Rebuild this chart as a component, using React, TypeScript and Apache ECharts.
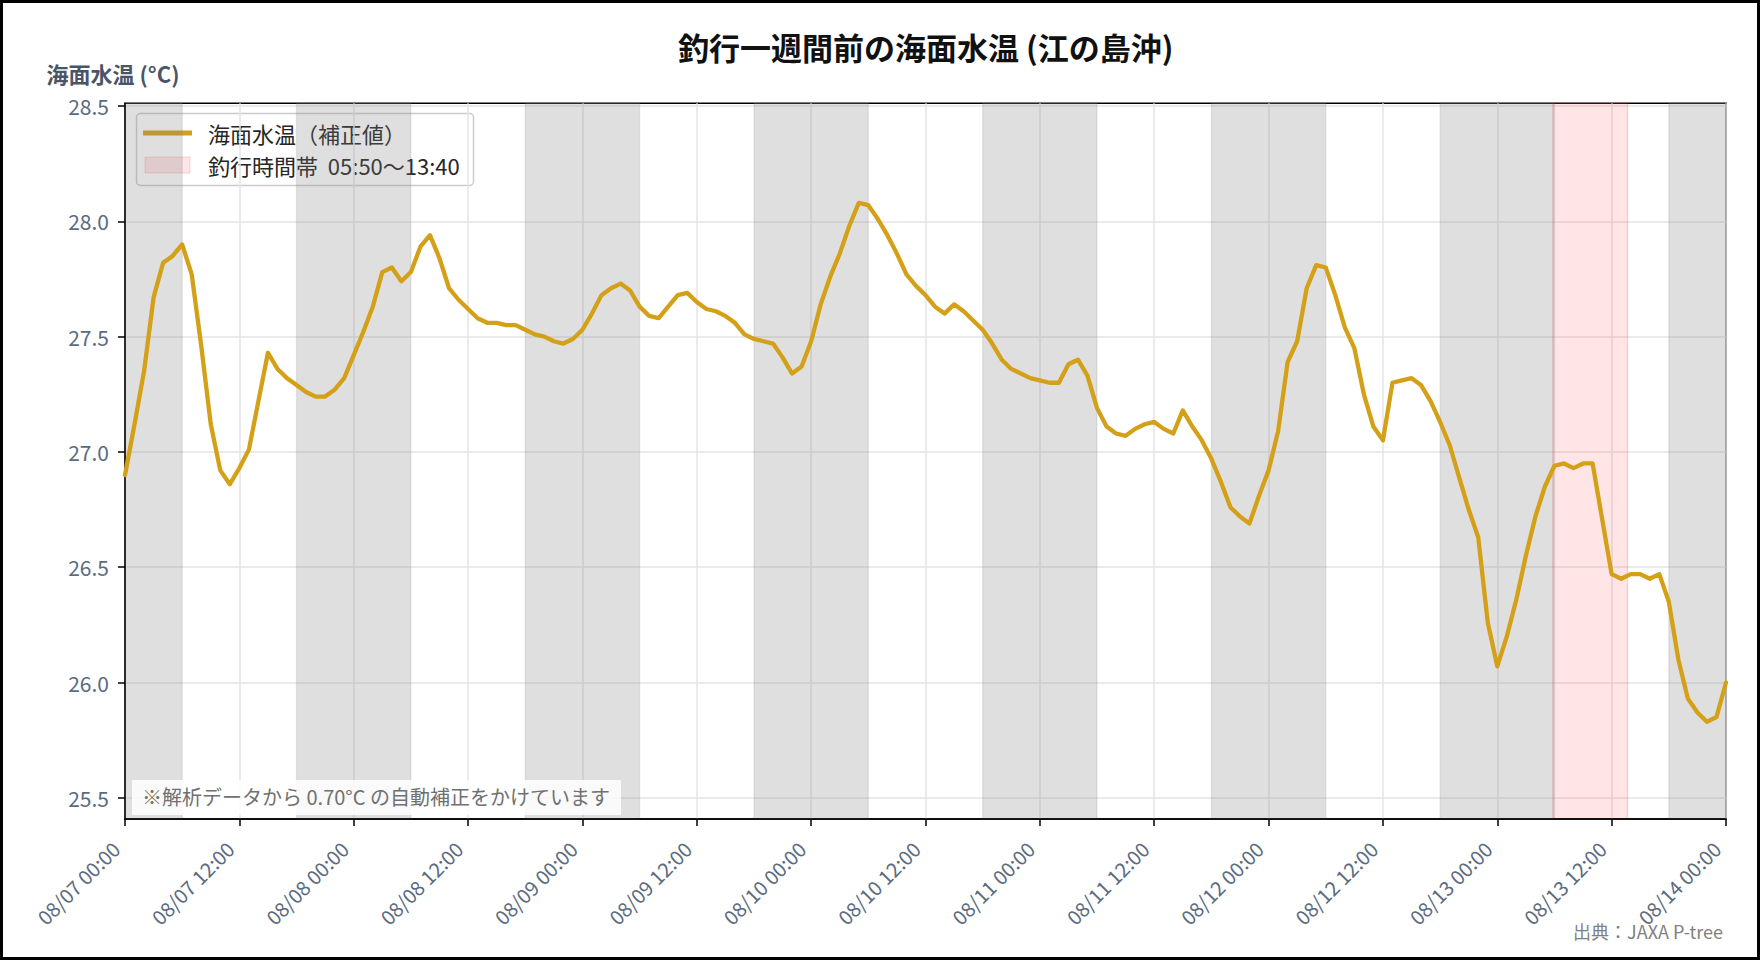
import { useEffect, useRef } from "react";
import * as echarts from "echarts";

const FONT = "'Noto Sans CJK JP', 'Noto Sans', sans-serif";

const TITLE = "釣行一週間前の海面水温 (江の島沖)";
const Y_NAME = "海面水温 (°C)";
const SERIES_NAME = "海面水温（補正値）";
const FISHING_LABEL = "釣行時間帯  05:50〜13:40";
const NOTE = "※解析データから 0.70°C の自動補正をかけています";
const SOURCE = "出典：JAXA P-tree";

// hourly values starting 08/07 00:00
const startMonth = 8;
const startDay = 7;
const seaTemp: number[] = [
  // 08/07
  26.90, 27.12, 27.35, 27.67, 27.82, 27.85, 27.90, 27.77, 27.46, 27.12, 26.92, 26.86,
  26.93, 27.01, 27.22, 27.43, 27.36, 27.32, 27.29, 27.26, 27.24, 27.24, 27.27, 27.32,
  // 08/08
  27.42, 27.52, 27.63, 27.78, 27.80, 27.74, 27.78, 27.89, 27.94, 27.84, 27.71, 27.66,
  27.62, 27.58, 27.56, 27.56, 27.55, 27.55, 27.53, 27.51, 27.50, 27.48, 27.47, 27.49,
  // 08/09
  27.53, 27.60, 27.68, 27.71, 27.73, 27.70, 27.63, 27.59, 27.58, 27.63, 27.68, 27.69,
  27.65, 27.62, 27.61, 27.59, 27.56, 27.51, 27.49, 27.48, 27.47, 27.41, 27.34, 27.37,
  // 08/10
  27.48, 27.64, 27.76, 27.86, 27.98, 28.08, 28.07, 28.01, 27.94, 27.86, 27.77, 27.72,
  27.68, 27.63, 27.60, 27.64, 27.61, 27.57, 27.53, 27.47, 27.40, 27.36, 27.34, 27.32,
  // 08/11
  27.31, 27.30, 27.30, 27.38, 27.40, 27.33, 27.19, 27.11, 27.08, 27.07, 27.10, 27.12,
  27.13, 27.10, 27.08, 27.18, 27.11, 27.05, 26.97, 26.87, 26.76, 26.72, 26.69, 26.81,
  // 08/12
  26.92, 27.09, 27.39, 27.48, 27.71, 27.81, 27.80, 27.68, 27.54, 27.45, 27.25, 27.11,
  27.05, 27.30, 27.31, 27.32, 27.29, 27.22, 27.13, 27.03, 26.89, 26.75, 26.63, 26.26,
  // 08/13
  26.07, 26.20, 26.36, 26.55, 26.72, 26.85, 26.94, 26.95, 26.93, 26.95, 26.95, 26.71,
  26.47, 26.45, 26.47, 26.47, 26.45, 26.47, 26.35, 26.10, 25.93, 25.87, 25.83, 25.85,
  // 08/14 00:00
  26.00,
];

const yTicks = [25.5, 26.0, 26.5, 27.0, 27.5, 28.0, 28.5];
const yMin = 25.408;
const yMax = 28.512;
const xMaxHours = 168;
const xTickStepHours = 12;

// night shading (hours from 08/07 00:00)
const nightStart = [0, 18, 42, 66, 90, 114, 138, 162];
const nightEnd = [6, 30, 54, 78, 102, 126, 150, 168];

// fishing window on 08/13
const fishingDayOffset = 6;
const fishingStart = "05:50";
const fishingEnd = "13:40";

const pad2 = (n: number) => String(n).padStart(2, "0");
const toHours = (hhmm: string) => {
  const [h, m] = hhmm.split(":").map(Number);
  return fishingDayOffset * 24 + h + m / 60;
};
const fmtX = (v: number) => {
  const d = startDay + Math.floor(v / 24);
  const hh = Math.round(v % 24);
  return `${pad2(startMonth)}/${pad2(d)} ${pad2(hh)}:00`;
};

const GOLD = "#D4A017";
const LABEL_COLOR = "#5b6b80";

export default function App() {
  const ref = useRef<HTMLDivElement>(null);

  useEffect(() => {
    if (!ref.current) return;
    const chart = echarts.init(ref.current, undefined, { renderer: "svg" });

    const nightAreas = nightStart.map((s, i) => [{ xAxis: s }, { xAxis: nightEnd[i] }]);

    const option: any = {
      animation: false,
      backgroundColor: "#ffffff",
      textStyle: { fontFamily: FONT },
      title: {
        text: TITLE,
        left: 673,
        top: 26,
        textStyle: { fontFamily: FONT, fontSize: 31, fontWeight: "bold", color: "#111111" },
      },
      grid: {
        left: 125,
        right: 34,
        top: 103.3,
        bottom: 141,
        show: true,
        borderColor: "#000000",
        borderWidth: 1.5,
        backgroundColor: "transparent",
        containLabel: false,
        outerBoundsMode: "none",
      },
      xAxis: {
        type: "value",
        min: 0,
        max: xMaxHours,
        interval: xTickStepHours,
        z: 1,
        axisLine: { show: true, onZero: false, lineStyle: { color: "#000000", width: 1.5 } },
        axisTick: { show: true, length: 7, lineStyle: { color: "#000000", width: 1.5 } },
        axisLabel: {
          rotate: 45,
          margin: 17,
          padding: [0, 13, 0, 0],
          fontFamily: FONT,
          fontSize: 20,
          color: LABEL_COLOR,
          formatter: (v: number) => fmtX(v),
          showMinLabel: true,
          showMaxLabel: true,
        },
        splitLine: { show: true, lineStyle: { color: "#e5e5e5", width: 1.5 } },
      },
      yAxis: {
        type: "value",
        min: yMin,
        max: yMax,
        z: 1,
        name: Y_NAME,
        nameLocation: "end",
        nameGap: 19,
        nameMoveOverlap: false,
        nameTextStyle: {
          fontFamily: FONT,
          fontSize: 22,
          fontWeight: "bold",
          color: "#4a5568",
          padding: [0, 24, 0, 0],
        },
        axisLine: { show: true, lineStyle: { color: "#000000", width: 1.5 } },
        axisTick: { show: true, length: 7, customValues: yTicks, lineStyle: { color: "#000000", width: 1.5 } },
        axisLabel: {
          customValues: yTicks,
          margin: 16,
          fontFamily: FONT,
          fontSize: 21,
          color: LABEL_COLOR,
          formatter: (v: number) => v.toFixed(1),
        },
        splitLine: { show: true, lineStyle: { color: "#e5e5e5", width: 1.5 } },
      },
      series: [
        {
          name: "night",
          type: "line",
          data: [],
          z: 0,
          silent: true,
          markArea: {
            silent: true,
            itemStyle: {
              color: "rgba(128,128,128,0.25)",
              borderColor: "rgba(128,128,128,0.15)",
              borderWidth: 1.5,
            },
            data: nightAreas,
          },
        },
        {
          name: FISHING_LABEL,
          type: "line",
          data: [],
          z: 1.5,
          silent: true,
          markArea: {
            silent: true,
            itemStyle: {
              color: "rgba(255,0,0,0.1)",
              borderColor: "rgba(200,60,60,0.18)",
              borderWidth: 1.5,
            },
            data: [[{ xAxis: toHours(fishingStart) }, { xAxis: toHours(fishingEnd) }]],
          },
        },
        {
          name: SERIES_NAME,
          type: "line",
          z: 2,
          data: seaTemp.map((v, i) => [i, v]),
          showSymbol: false,
          symbol: "none",
          smooth: false,
          lineStyle: { color: GOLD, width: 4.3, join: "round", cap: "round" },
          itemStyle: { color: GOLD },
        },
      ],
      graphic: [
        {
          type: "rect",
          z: 200,
          silent: true,
          shape: { x: 1.5, y: 1.5, width: 1757, height: 957 },
          style: { fill: "none", stroke: "#000000", lineWidth: 3 },
        },
        {
          type: "group",
          z: 100,
          silent: true,
          children: [
            {
              type: "rect",
              shape: { x: 136.5, y: 113.5, width: 337, height: 72, r: 4 },
              style: { fill: "rgba(255,255,255,0.85)", stroke: "#cccccc", lineWidth: 1.5 },
            },
            {
              type: "line",
              shape: { x1: 143, y1: 133, x2: 192, y2: 133 },
              style: { stroke: GOLD, lineWidth: 5 },
            },
            {
              type: "rect",
              shape: { x: 145, y: 157, width: 45, height: 16 },
              style: { fill: "rgba(255,0,0,0.1)", stroke: "rgba(220,60,60,0.2)", lineWidth: 1 },
            },
            {
              type: "text",
              x: 208,
              y: 133,
              style: {
                text: SERIES_NAME,
                font: `22px ${FONT}`,
                fill: "#262626",
                verticalAlign: "middle",
                textVerticalAlign: "middle",
              },
            },
            {
              type: "text",
              x: 208,
              y: 165,
              style: {
                text: FISHING_LABEL,
                font: `22px ${FONT}`,
                fill: "#262626",
                verticalAlign: "middle",
                textVerticalAlign: "middle",
              },
            },
          ],
        },
        {
          type: "text",
          z: 100,
          left: 132,
          top: 780,
          silent: true,
          style: {
            text: NOTE,
            font: `20px ${FONT}`,
            fill: "#707070",
            backgroundColor: "rgba(255,255,255,0.85)",
            padding: [7, 11, 8, 10],
          },
        },
        {
          type: "text",
          z: 100,
          right: 37,
          top: 922,
          silent: true,
          style: {
            text: SOURCE,
            font: `18px ${FONT}`,
            fill: "#808080",
          },
        },
      ],
    };

    chart.setOption(option);
    return () => {
      chart.dispose();
    };
  }, []);

  return (
    <div
      ref={ref}
      style={{ position: "fixed", left: 0, top: 0, width: 1760, height: 960, background: "#ffffff" }}
    />
  );
}
